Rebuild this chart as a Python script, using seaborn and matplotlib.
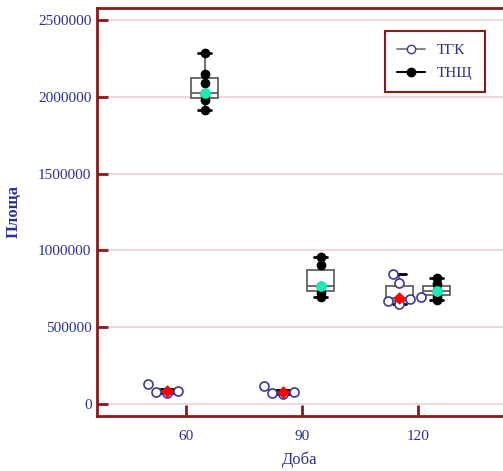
import matplotlib
matplotlib.use("Agg")
import matplotlib.pyplot as plt
from matplotlib.lines import Line2D
import numpy as np
import pandas as pd
import seaborn as sns

# дані
days = [60, 90, 120]
groups = ["ТГК", "ТНЩ"]
tgk_60 = [130000, 86000, 80000, 74000]
tgk_90 = [118000, 80000, 74000, 66000]
tgk_120 = [846000, 790000, 695000, 680000, 668000, 652000]
thsc_60 = [2285000, 2150000, 2090000, 2025000, 2010000, 1980000, 1914000]
thsc_90 = [957000, 905000, 770000, 760000, 725000, 697000]
thsc_120 = [820000, 780000, 742000, 735000, 697000, 677000]
y_ticks = [0, 500000, 1000000, 1500000, 2000000, 2500000]

series = {"ТГК": [tgk_60, tgk_90, tgk_120], "ТНЩ": [thsc_60, thsc_90, thsc_120]}
offset = {"ТГК": -4.8, "ТНЩ": 4.8}
rows = []
for g in groups:
    for d, vals in zip(days, series[g]):
        for v in vals:
            rows.append({"day": d, "group": g, "pos": d + offset[g], "value": v})
df = pd.DataFrame(rows)

sns.set_style("white")
plt.rcParams["font.family"] = ["Liberation Serif", "DejaVu Serif"]

red = "#8b1a1a"
blue = "#2e3192"

fig = plt.figure(figsize=(5.03, 4.71), dpi=100)
ax = fig.add_axes([0.193, 0.117, 0.807, 0.866])

sns.boxplot(data=df, x="pos", y="value", hue="group", native_scale=True,
            palette={"ТГК": "white", "ТНЩ": "white"}, linecolor="#555555",
            linewidth=1.2, width=0.72, showfliers=False, legend=False,
            capprops={"color": "black", "linewidth": 2}, ax=ax)

tgk = df[df.group == "ТГК"]
thsc = df[df.group == "ТНЩ"]
sns.swarmplot(data=tgk, x="pos", y="value", native_scale=True, color="white",
              edgecolor="#3a3a9a", linewidth=1.2, size=6.5, ax=ax)
sns.stripplot(data=thsc, x="pos", y="value", native_scale=True, color="black",
              jitter=False, size=7, ax=ax)

med = df.groupby(["group", "pos"], as_index=False)["value"].median()
m1 = med[med.group == "ТГК"]
m2 = med[med.group == "ТНЩ"]
ax.scatter(m1.pos, m1.value, marker="D", s=30, color="red", zorder=5)
ax.scatter(m2.pos, m2.value, marker="o", s=45, color="#1de9b6", zorder=5)

ax.set_xlim(37, 142)
ax.set_ylim(-78000, 2578000)
ax.set_xticks(days)
ax.set_xticklabels([str(d) for d in days])
ax.set_yticks(y_ticks)
ax.set_yticklabels([str(t) for t in y_ticks])
ax.yaxis.grid(True, color="#e8dcdc", linewidth=1.5)
ax.set_axisbelow(True)

for s in ["left", "bottom", "top"]:
    ax.spines[s].set_color(red)
    ax.spines[s].set_linewidth(2)
ax.spines["right"].set_visible(False)
ax.tick_params(direction="in", length=8, width=2, color=red,
               labelcolor=blue, labelsize=11, left=True, bottom=True)
ax.tick_params(axis="y", pad=4)
ax.tick_params(axis="x", pad=10)

ax.set_xlabel("Доба", color=blue, fontsize=12, labelpad=6)
ax.set_ylabel("Площа", color=blue, fontsize=12, fontweight="bold", labelpad=12)

handles = [
    Line2D([], [], color="#888888", lw=1.5, marker="o", markersize=6,
           markerfacecolor="white", markeredgecolor="#3a3a9a"),
    Line2D([], [], color="black", lw=1.5, marker="o", markersize=6,
           markerfacecolor="black"),
]
leg = ax.legend(handles, groups, loc="upper right", bbox_to_anchor=(0.964, 0.934),
                bbox_transform=fig.transFigure, borderaxespad=0, fancybox=False,
                framealpha=1, edgecolor=red, fontsize=11, handlelength=1.8,
                labelcolor=blue, borderpad=0.8, labelspacing=0.6)
leg.get_frame().set_linewidth(1.5)

fig.savefig("out.png", dpi=100)
